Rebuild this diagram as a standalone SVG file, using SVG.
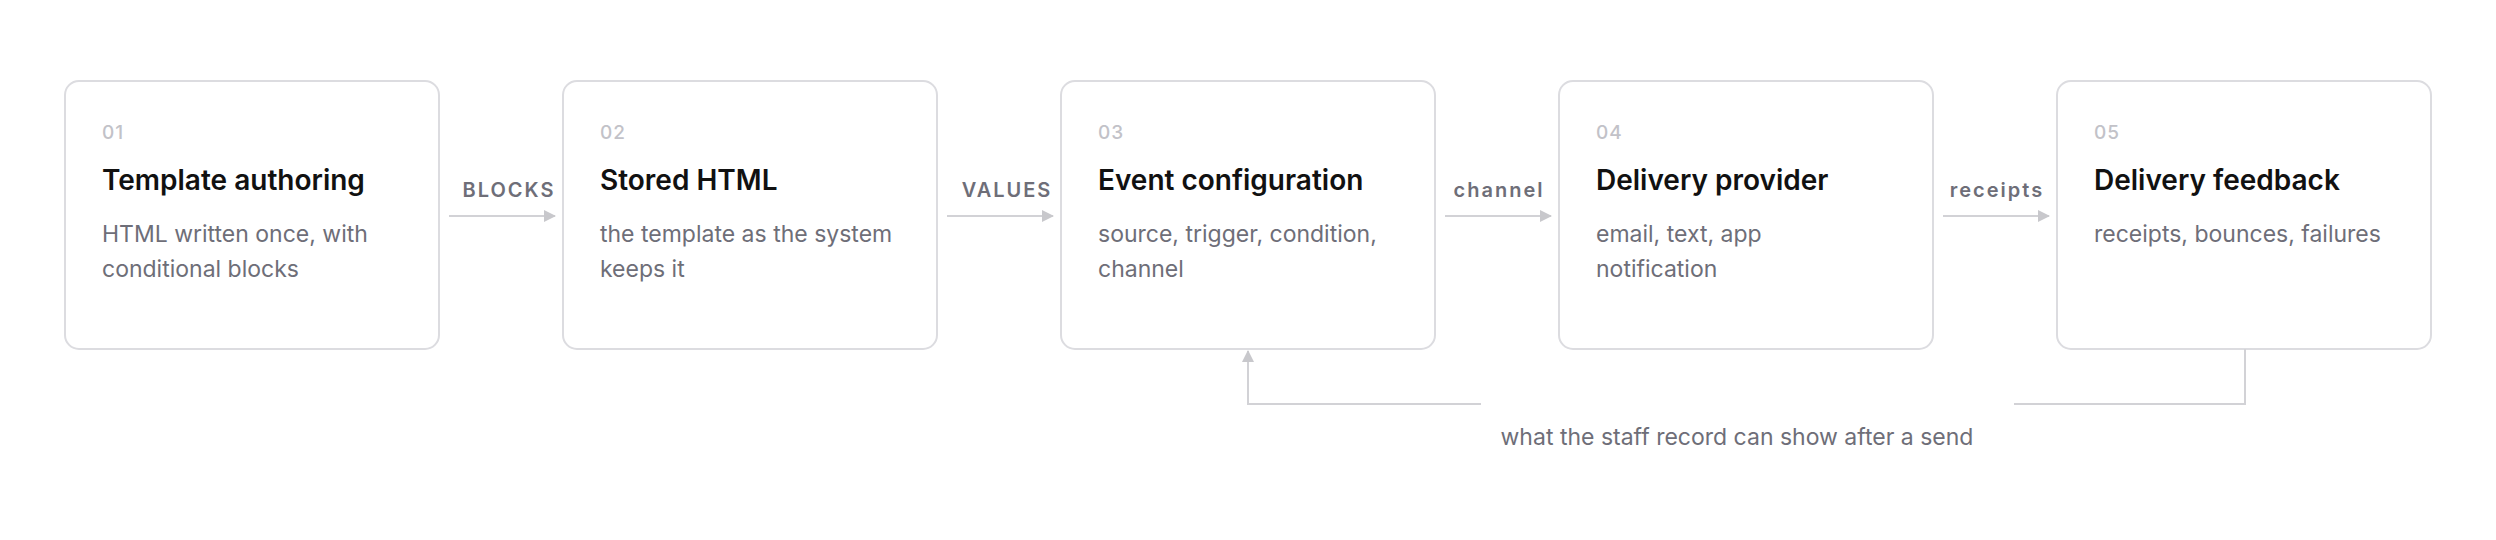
<svg xmlns="http://www.w3.org/2000/svg" width="2496" height="540" viewBox="0 0 2496 540">
<style>
.box{fill:#fff;stroke:#dcdce0;stroke-width:2}
text{font-family:Inter,"Liberation Sans",sans-serif}
.num{font-size:19px;fill:#c2c2c8;font-weight:500;letter-spacing:1px}
.title{font-size:28px;fill:#111;font-weight:600}
.desc{font-size:23px;fill:#6e6e78}
.lbl{font-size:20px;fill:#6e6e78;font-weight:600;letter-spacing:2px;text-anchor:middle}
.ln{fill:none;stroke:#d2d2d6;stroke-width:2}
</style>
<defs><marker id="a" markerWidth="12" markerHeight="12" refX="11" refY="6" orient="auto" markerUnits="userSpaceOnUse"><path d="M0,0 L12,6 L0,12 Z" fill="#c8c8cc"/></marker></defs>
<rect width="2496" height="540" fill="#fff"/>
<g id="n1"><rect class="box" x="65" y="81" width="374" height="268" rx="14"/><text class="num" x="102" y="139">01</text><text class="title" x="102" y="190">Template authoring</text><text class="desc" x="102" y="242">HTML written once, with</text><text class="desc" x="102" y="277">conditional blocks</text></g>
<g id="n2"><rect class="box" x="563" y="81" width="374" height="268" rx="14"/><text class="num" x="600" y="139">02</text><text class="title" x="600" y="190">Stored HTML</text><text class="desc" x="600" y="242">the template as the system</text><text class="desc" x="600" y="277">keeps it</text></g>
<g id="n3"><rect class="box" x="1061" y="81" width="374" height="268" rx="14"/><text class="num" x="1098" y="139">03</text><text class="title" x="1098" y="190">Event configuration</text><text class="desc" x="1098" y="242">source, trigger, condition,</text><text class="desc" x="1098" y="277">channel</text></g>
<g id="n4"><rect class="box" x="1559" y="81" width="374" height="268" rx="14"/><text class="num" x="1596" y="139">04</text><text class="title" x="1596" y="190">Delivery provider</text><text class="desc" x="1596" y="242">email, text, app</text><text class="desc" x="1596" y="277">notification</text></g>
<g id="n5"><rect class="box" x="2057" y="81" width="374" height="268" rx="14"/><text class="num" x="2094" y="139">05</text><text class="title" x="2094" y="190">Delivery feedback</text><text class="desc" x="2094" y="242">receipts, bounces, failures</text></g>
<g id="connectors">
<line class="ln" x1="449" y1="216" x2="555" y2="216" marker-end="url(#a)"/><text class="lbl" x="509" y="197">BLOCKS</text>
<line class="ln" x1="947" y1="216" x2="1053" y2="216" marker-end="url(#a)"/><text class="lbl" x="1007" y="197">VALUES</text>
<line class="ln" x1="1445" y1="216" x2="1551" y2="216" marker-end="url(#a)"/><text class="lbl" x="1499" y="197">channel</text>
<line class="ln" x1="1943" y1="216" x2="2049" y2="216" marker-end="url(#a)"/><text class="lbl" x="1997" y="197">receipts</text>
<polyline class="ln" points="2245,349 2245,404 2014,404"/>
<polyline class="ln" points="1481,404 1248,404 1248,351" marker-end="url(#a)"/>
<text class="desc" x="1737" y="445" text-anchor="middle">what the staff record can show after a send</text>
</g>
</svg>
